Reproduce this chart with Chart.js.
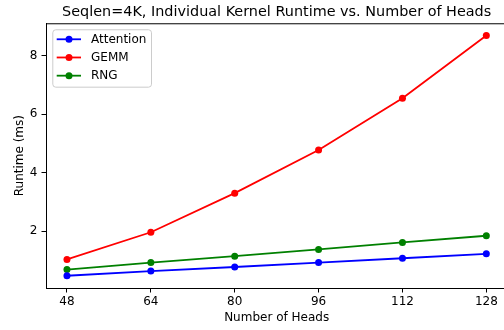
<!DOCTYPE html>
<html>
<head>
<meta charset="utf-8">
<script src="https://cdn.jsdelivr.net/npm/chart.js@4.4.0/dist/chart.umd.min.js"></script>
<style>
    html, body { margin: 0; padding: 0; background: #fff; width: 504px; height: 330px; overflow: hidden; }
    canvas { display: block; }
</style>
</head>
<body>
<canvas id="runtimeChart" width="512" height="330"></canvas>
<script>
// Data
const heads = [48, 64, 80, 96, 112, 128];
const attention = [0.47, 0.63, 0.77, 0.92, 1.07, 1.22];
const gemm = [1.03, 1.96, 3.30, 4.78, 6.55, 8.70];
const rng = [0.68, 0.92, 1.14, 1.37, 1.61, 1.84];
const seriesNames = ['Attention', 'GEMM', 'RNG'];
const seriesColors = ['#0000ff', '#ff0000', '#008000'];
const xTicks = [48, 64, 80, 96, 112, 128];
const yTicks = [2, 4, 6, 8];

const FONT = 'DejaVu Sans';
Chart.defaults.font.family = FONT;
Chart.defaults.color = '#000';

function makeDataset(name, values, color) {
    return {
        label: name,
        data: heads.map((h, i) => ({ x: h, y: values[i] })),
        borderColor: color,
        backgroundColor: color,
        borderWidth: 1.8,
        pointRadius: 3.5,
        pointBorderWidth: 0,
        pointBackgroundColor: color,
        tension: 0,
        fill: false
    };
}

// Top/right spines and the matplotlib-style legend box
const framePlugin = {
    id: 'frame',
    afterDatasetsDraw(chart) {
        const { ctx, chartArea: a } = chart;
        ctx.save();
        ctx.strokeStyle = '#000';
        ctx.lineWidth = 1;
        ctx.beginPath();
        ctx.moveTo(a.left, a.top + 0.5);
        ctx.lineTo(a.right, a.top + 0.5);
        ctx.moveTo(a.right - 0.5, a.top);
        ctx.lineTo(a.right - 0.5, a.bottom);
        ctx.stroke();

        // legend
        const bx = a.left + 6.3, by = a.top + 6, bw = 98.7, bh = 57.4;
        ctx.beginPath();
        ctx.roundRect(bx + 0.5, by + 0.5, bw, bh, 3);
        ctx.fillStyle = 'rgba(255,255,255,0.8)';
        ctx.fill();
        ctx.strokeStyle = '#cccccc';
        ctx.stroke();

        ctx.font = '12px ' + FONT;
        ctx.textBaseline = 'middle';
        ctx.textAlign = 'left';
        chart.data.datasets.forEach((ds, i) => {
            const y = by + 10 + i * 18.2;
            ctx.strokeStyle = ds.borderColor;
            ctx.lineWidth = 1.8;
            ctx.beginPath();
            ctx.moveTo(bx + 4.4, y);
            ctx.lineTo(bx + 28.7, y);
            ctx.stroke();
            ctx.fillStyle = ds.borderColor;
            ctx.beginPath();
            ctx.arc(bx + 16.7, y, 3.5, 0, Math.PI * 2);
            ctx.fill();
            ctx.fillStyle = '#000';
            ctx.fillText(ds.label, bx + 38.7, y + 0.5);
        });
        ctx.restore();
    }
};

const ctx = document.getElementById('runtimeChart').getContext('2d');
new Chart(ctx, {
    type: 'line',
    data: {
        datasets: [
            makeDataset(seriesNames[0], attention, seriesColors[0]),
            makeDataset(seriesNames[1], gemm, seriesColors[1]),
            makeDataset(seriesNames[2], rng, seriesColors[2])
        ]
    },
    options: {
        responsive: false,
        animation: false,
        layout: { padding: { left: 0, right: 4.7, top: 0, bottom: 0 } },
        plugins: {
            legend: { display: false },
            tooltip: { enabled: false },
            title: {
                display: true,
                text: 'Seqlen=4K, Individual Kernel Runtime vs. Number of Heads',
                font: { size: 14.4, weight: 'normal', family: FONT },
                color: '#000',
                padding: { top: 4, bottom: 2 },
                fullSize: false
            }
        },
        scales: {
            x: {
                type: 'linear',
                min: 44,
                max: 132,
                afterBuildTicks: s => { s.ticks = xTicks.map(v => ({ value: v })); },
                afterFit: s => { s.height = 42; },
                ticks: { font: { size: 12 }, color: '#000', padding: 2.5, maxRotation: 0 },
                grid: { display: true, drawOnChartArea: false, drawTicks: true, tickLength: 4.5, tickColor: '#000', tickWidth: 1 },
                border: { display: true, color: '#000', width: 1 },
                title: { display: true, text: 'Number of Heads', font: { size: 12 }, color: '#000', padding: { top: 4, bottom: 5 } }
            },
            y: {
                type: 'linear',
                min: 0.05,
                max: 9.12,
                afterBuildTicks: s => { s.ticks = yTicks.map(v => ({ value: v })); },
                afterFit: s => { s.width = 46; },
                ticks: { font: { size: 12 }, color: '#000', padding: 4.2 },
                grid: { display: true, drawOnChartArea: false, drawTicks: true, tickLength: 4.5, tickColor: '#000', tickWidth: 1 },
                border: { display: true, color: '#000', width: 1 },
                title: { display: true, text: 'Runtime (ms)', font: { size: 12 }, color: '#000', padding: { top: 13, bottom: 0 } }
            }
        }
    },
    plugins: [framePlugin]
});
</script>
</body>
</html>
